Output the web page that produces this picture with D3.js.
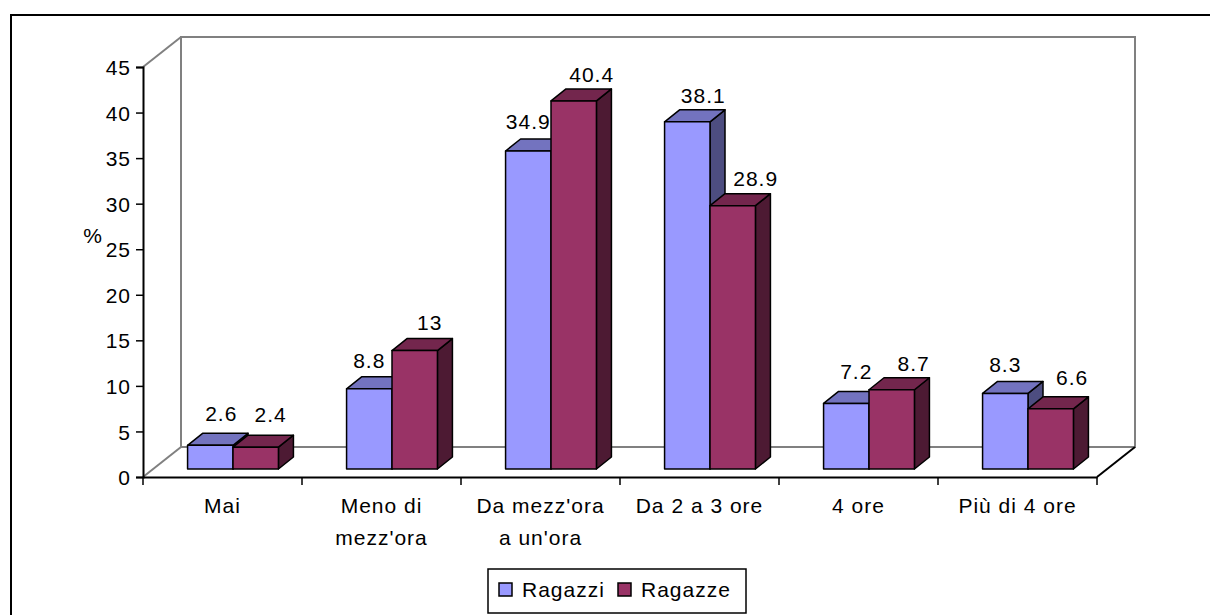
<!DOCTYPE html>
<html>
<head>
<meta charset="utf-8">
<script src="https://cdn.jsdelivr.net/npm/d3@7"></script>
<style>
  html, body { margin: 0; padding: 0; background: #fff; }
  svg { display: block; }
  text { font-family: "Liberation Sans", Arial, sans-serif; font-size: 21px; letter-spacing: 1px; fill: #000; }
</style>
</head>
<body>
<svg id="chart" width="1210" height="615"></svg>
<script>
// Time spent per day, by gender (%)
const categories = ["Mai", "Meno di\nmezz'ora", "Da mezz'ora\na un'ora", "Da 2 a 3 ore", "4 ore", "Più di 4 ore"];
const seriesNames = ["Ragazzi", "Ragazze"];
const ragazzi = [2.6, 8.8, 34.9, 38.1, 7.2, 8.3];
const ragazze = [2.4, 13, 40.4, 28.9, 8.7, 6.6];
const yTicks = [0, 5, 10, 15, 20, 25, 30, 35, 40, 45];

// Hand placement of the value labels (px, relative to the default spot)
const labelShiftX = { Ragazzi: [-4, -15, -15, 1, -5, -15], Ragazze: [0, 0, 3, 8, 7, 6.5] };
const labelShiftY = { Ragazzi: [-3, 0, -1, 2, -3.4, 0], Ragazze: [-4, 0, 2.4, 1, 2.7, -3] };

const colors = {
  Ragazzi: { front: "#9999FF", top: "#7373BF", side: "#4D4D80" },
  Ragazze: { front: "#993366", top: "#73264D", side: "#4D1A33" }
};

const svg = d3.select("#chart");

// Outer chart frame (runs past the right and bottom edges)
svg.append("rect")
  .attr("x", 11).attr("y", 15)
  .attr("width", 1240).attr("height", 640)
  .attr("fill", "#fff").attr("stroke", "#000").attr("stroke-width", 2);

// Front plane of the 3-D plot and depth offsets
const plotLeft = 143, plotRight = 1097, plotBottom = 477, plotTop = 67;
const depthX = 38, depthY = -30;           // full floor depth
const barFrontX = 10.5, barFrontY = -8;   // where bars start inside the depth
const barDepthX = 15, barDepthY = -12;    // depth of each bar

const x = d3.scaleBand().domain(categories).range([plotLeft, plotRight]);
const y = d3.scaleLinear().domain([0, 45]).range([plotBottom, plotTop]);
const barW = x.bandwidth() / 3.5;
const xs = d3.scaleBand().domain(seriesNames).range([0, 2 * barW]);
const groupOffset = (x.bandwidth() - 2 * barW) / 2;

// Back wall and floor edges
const gray = "#808080";
const wall = svg.append("g").attr("fill", "none").attr("stroke", gray).attr("stroke-width", 2);
wall.append("path").attr("d",
  `M${plotLeft + depthX},${y(0) + depthY} L${plotLeft + depthX},${y(45) + depthY} L${plotRight + depthX},${y(45) + depthY} L${plotRight + depthX},${y(0) + depthY} L${plotLeft + depthX},${y(0) + depthY}`);
wall.append("line").attr("x1", plotLeft).attr("y1", y(45)).attr("x2", plotLeft + depthX).attr("y2", y(45) + depthY);
wall.append("line").attr("x1", plotLeft).attr("y1", y(0)).attr("x2", plotLeft + depthX).attr("y2", y(0) + depthY);
svg.append("line").attr("x1", plotRight).attr("y1", y(0)).attr("x2", plotRight + depthX).attr("y2", y(0) + depthY)
  .attr("stroke", "#000").attr("stroke-width", 2);

// Bars
const barData = [];
categories.forEach((c, i) => {
  barData.push({ cat: c, i, s: "Ragazzi", v: ragazzi[i] });
  barData.push({ cat: c, i, s: "Ragazze", v: ragazze[i] });
});

const bars = svg.append("g");
barData.forEach(d => {
  const x0 = x(d.cat) + groupOffset + xs(d.s) + barFrontX;
  const x1 = x0 + barW;
  const yb = y(0) + barFrontY;
  const yt = y(d.v) + barFrontY;
  const c = colors[d.s];
  const g = bars.append("g").attr("stroke", "#000").attr("stroke-width", 1.5).attr("stroke-linejoin", "round");
  g.append("path").attr("fill", c.side)
    .attr("d", `M${x1},${yb} L${x1 + barDepthX},${yb + barDepthY} L${x1 + barDepthX},${yt + barDepthY} L${x1},${yt} Z`);
  g.append("path").attr("fill", c.top)
    .attr("d", `M${x0},${yt} L${x0 + barDepthX},${yt + barDepthY} L${x1 + barDepthX},${yt + barDepthY} L${x1},${yt} Z`);
  g.append("rect").attr("fill", c.front)
    .attr("x", x0).attr("y", yt).attr("width", barW).attr("height", yb - yt);
  d.labelX = (x0 + x1) / 2 + barDepthX + labelShiftX[d.s][d.i];
  d.labelY = yt + barDepthY - 9 + labelShiftY[d.s][d.i];
});

// Value labels
svg.append("g").selectAll("text").data(barData).join("text")
  .attr("x", d => d.labelX).attr("y", d => d.labelY)
  .attr("text-anchor", "middle")
  .text(d => d.v);

// Value axis
const yAxis = svg.append("g").attr("transform", `translate(${plotLeft},0)`)
  .call(d3.axisLeft(y).tickValues(yTicks).tickSize(7).tickPadding(5));
yAxis.attr("font-size", null).attr("font-family", null);
yAxis.select(".domain").attr("stroke", "#000").attr("stroke-width", 2);
yAxis.selectAll(".tick line").attr("stroke", "#000").attr("stroke-width", 1.5);
yAxis.selectAll(".tick text").attr("dy", "0.36em");

svg.append("text").attr("x", 93).attr("y", 243).attr("text-anchor", "middle").text("%");

// Category axis
const xAxis = svg.append("g").attr("transform", `translate(0,${plotBottom})`)
  .call(d3.axisBottom(x).tickSize(0).tickFormat(""));
xAxis.select(".domain").attr("stroke", "#000").attr("stroke-width", 2);
const edges = d3.range(categories.length + 1).map(i => plotLeft + i * x.bandwidth());
xAxis.selectAll(".edge").data(edges).join("line")
  .attr("x1", d => d).attr("x2", d => d).attr("y1", 0).attr("y2", 8)
  .attr("stroke", "#000").attr("stroke-width", 1.5);

const catLabels = svg.append("g").selectAll("text").data(categories).join("text")
  .attr("x", d => x(d) + x.bandwidth() / 2)
  .attr("y", 513)
  .attr("text-anchor", "middle");
catLabels.each(function(d) {
  d.split("\n").forEach((line, k) => {
    d3.select(this).append("tspan")
      .attr("x", x(d) + x.bandwidth() / 2)
      .attr("dy", k === 0 ? 0 : 32)
      .text(line);
  });
});

// Legend
const legend = svg.append("g");
legend.append("rect").attr("x", 488).attr("y", 569).attr("width", 258).attr("height", 44)
  .attr("fill", "#fff").attr("stroke", "#000").attr("stroke-width", 1.5);
const legendX = [499, 618];
seriesNames.forEach((s, i) => {
  legend.append("rect").attr("x", legendX[i]).attr("y", 583).attr("width", 13).attr("height", 13)
    .attr("fill", colors[s].front).attr("stroke", "#000").attr("stroke-width", 1.5);
  legend.append("text").attr("x", legendX[i] + 23).attr("y", 597).text(s);
});
</script>
</body>
</html>
